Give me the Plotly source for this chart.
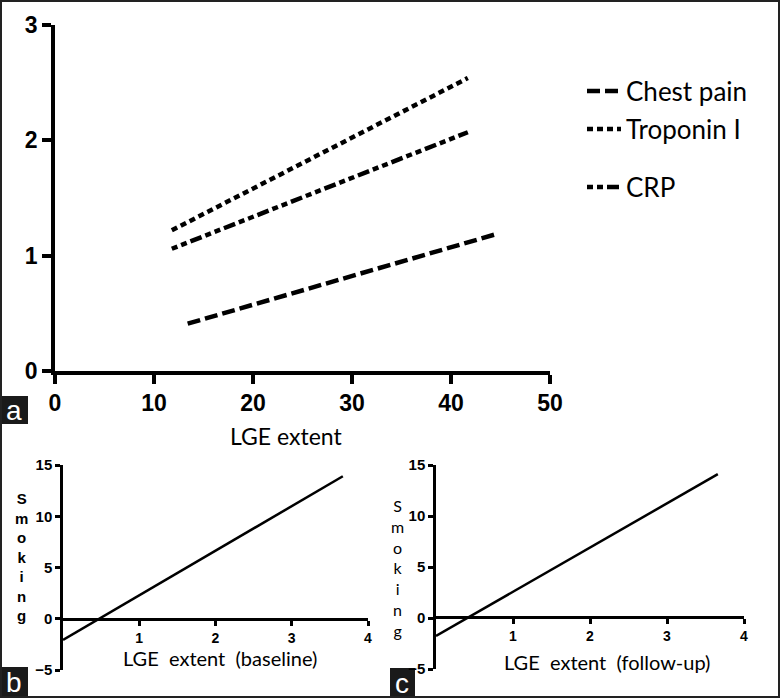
import plotly.graph_objects as go

W, H = 780, 698

# ---- Data ----
# Panel a
chest_x = [13.4, 44.7]
chest_y = [0.41, 1.19]
trop_x = [11.8, 41.7]
trop_y = [1.22, 2.54]
crp_x = [11.8, 41.7]
crp_y = [1.06, 2.07]
a_xticks = [0, 10, 20, 30, 40, 50]
a_yticks = [0, 1, 2, 3]

# Panel b
b_x = [0.0, 3.67]
b_y = [-2.06, 13.9]
# Panel c
c_x = [0.0, 3.66]
c_y = [-1.76, 14.1]
bc_xticks = [1, 2, 3, 4]
bc_yticks = [-5, 0, 5, 10, 15]


def px(x):
    return x / W


def py(y):
    return 1 - y / H


fig = go.Figure()

fig.add_trace(go.Scatter(x=chest_x, y=chest_y, mode="lines", name="Chest pain",
                         line=dict(color="black", width=4.5, dash="13px,5px"),
                         xaxis="x", yaxis="y", legend="legend"))
fig.add_trace(go.Scatter(x=trop_x, y=trop_y, mode="lines", name="Troponin I",
                         line=dict(color="black", width=4.5, dash="6px,4px"),
                         xaxis="x", yaxis="y", legend="legend2"))
fig.add_trace(go.Scatter(x=crp_x, y=crp_y, mode="lines", name="CRP",
                         line=dict(color="black", width=4.5, dash="6px,4px,6px,4px,12px,4px"),
                         xaxis="x", yaxis="y", legend="legend3"))

fig.add_trace(go.Scatter(x=b_x, y=b_y, mode="lines", showlegend=False,
                         line=dict(color="black", width=2.5), xaxis="x2", yaxis="y2"))
fig.add_trace(go.Scatter(x=c_x, y=c_y, mode="lines", showlegend=False,
                         line=dict(color="black", width=2.5), xaxis="x3", yaxis="y3"))

tickfont_a = dict(family="Liberation Sans, Arial", size=23, color="black", weight="bold")
tickfont_bc = dict(family="Liberation Sans, Arial", size=15, color="black", weight="bold")
tickfont_bcx = dict(family="Liberation Sans, Arial", size=14, color="black", weight="bold")

common = dict(showgrid=False, zeroline=False, showline=True, linecolor="black",
              ticks="outside", tickcolor="black", automargin=False)

# Panel a geometry (pixels)
a_x0, a_x1 = 55, 550
a_y0, a_y1 = 371, 25
# Panel b
b_x0, b_x1 = 63, 368
b_ybot, b_ytop = 670, 465
b_zero = 619
# Panel c
c_x0, c_x1 = 436, 744
c_ybot, c_ytop = 669, 465
c_zero = 617

fig.update_layout(
    width=W, height=H,
    margin=dict(l=0, r=0, t=0, b=0, pad=0, autoexpand=False),
    paper_bgcolor="white", plot_bgcolor="rgba(0,0,0,0)",
    xaxis=dict(domain=[px(a_x0), px(a_x1)], range=[0, 50], tickvals=a_xticks,
               linewidth=3.5, tickwidth=3.5, ticklen=9, tickfont=tickfont_a,
               ticklabelstandoff=0, anchor="y", **common),
    yaxis=dict(domain=[py(a_y0), py(a_y1)], range=[0, 3], tickvals=a_yticks,
               linewidth=3.5, tickwidth=3.5, ticklen=9, tickfont=tickfont_a,
               ticklabelstandoff=0, anchor="x", **common),
    xaxis2=dict(domain=[px(b_x0), px(b_x1)], range=[0, 4], tickvals=bc_xticks,
                linewidth=2.5, tickwidth=2.5, ticklen=5, tickfont=tickfont_bcx,
                ticklabelstandoff=0, anchor="free", position=py(b_zero), **common),
    yaxis2=dict(domain=[py(b_ybot), py(b_ytop)], range=[-5, 15], tickvals=bc_yticks,
                linewidth=2.5, tickwidth=2.5, ticklen=5, tickfont=tickfont_bc,
                ticklabelstandoff=0, anchor="x2", **common),
    xaxis3=dict(domain=[px(c_x0), px(c_x1)], range=[0, 4], tickvals=bc_xticks,
                linewidth=2.5, tickwidth=2.5, ticklen=5, tickfont=tickfont_bcx,
                ticklabelstandoff=0, anchor="free", position=py(c_zero), **common),
    yaxis3=dict(domain=[py(c_ybot), py(c_ytop)], range=[-5, 15], tickvals=bc_yticks,
                linewidth=2.5, tickwidth=2.5, ticklen=5, tickfont=tickfont_bc,
                ticklabelstandoff=0, anchor="x3", **common),
)

legend_font = dict(family="Lato, Open Sans", size=26, color="black")
leg_common = dict(xanchor="left", yanchor="middle", bgcolor="rgba(0,0,0,0)",
                  font=legend_font, itemwidth=34)
fig.update_layout(
    legend=dict(x=px(582), y=py(91), **leg_common),
    legend2=dict(x=px(582), y=py(129), **leg_common),
    legend3=dict(x=px(582), y=py(187), **leg_common),
)

label_font = dict(family="Lato, Open Sans", size=23, color="black")
ann = [
    dict(text="LGE extent", x=px(286), y=py(436), xref="paper", yref="paper",
         showarrow=False, font=label_font, xanchor="center", yanchor="middle"),
    dict(text="LGE\u00a0 extent\u00a0 (baseline)", x=px(220), y=py(658), xref="paper", yref="paper",
         showarrow=False, font=dict(family="Lato, Open Sans", size=20, color="black"),
         xanchor="center", yanchor="middle"),
    dict(text="LGE\u00a0 extent\u00a0 (follow-up)", x=px(607), y=py(662), xref="paper", yref="paper",
         showarrow=False, font=dict(family="Lato, Open Sans", size=20, color="black"),
         xanchor="center", yanchor="middle"),
    dict(text="S<br>m<br>o<br>k<br>i<br>n<br>g", x=px(21), y=py(557), xref="paper", yref="paper",
         showarrow=False, font=dict(family="Liberation Sans, Arial", size=15, color="black", weight="bold"),
         xanchor="center", yanchor="middle"),
    dict(text="S<br>m<br>o<br>k<br>i<br>n<br>g", x=px(397), y=py(568), xref="paper", yref="paper",
         showarrow=False, font=dict(family="Lato, Open Sans", size=16, color="black"),
         xanchor="center", yanchor="middle"),
    dict(text="a", x=px(14), y=py(410), xref="paper", yref="paper", showarrow=False,
         font=dict(family="Liberation Sans, Arial", size=28, color="white"), xanchor="center", yanchor="middle"),
    dict(text="b", x=px(14), y=py(682), xref="paper", yref="paper", showarrow=False,
         font=dict(family="Liberation Sans, Arial", size=28, color="white"), xanchor="center", yanchor="middle"),
    dict(text="c", x=px(402), y=py(683), xref="paper", yref="paper", showarrow=False,
         font=dict(family="Liberation Sans, Arial", size=28, color="white"), xanchor="center", yanchor="middle"),
]
fig.update_layout(annotations=ann)

shapes = [
    dict(type="rect", xref="paper", yref="paper", x0=px(0), x1=px(28), y0=py(424), y1=py(396),
         fillcolor="#1a1a1a", line=dict(width=0), layer="below"),
    dict(type="rect", xref="paper", yref="paper", x0=px(0), x1=px(28), y0=py(698), y1=py(667),
         fillcolor="#1a1a1a", line=dict(width=0), layer="below"),
    dict(type="rect", xref="paper", yref="paper", x0=px(390), x1=px(415), y0=py(698), y1=py(668),
         fillcolor="#1a1a1a", line=dict(width=0), layer="below"),
    dict(type="rect", xref="paper", yref="paper", x0=px(1), x1=px(779), y0=py(697), y1=py(1),
         fillcolor="rgba(0,0,0,0)", line=dict(width=2, color="#222"), layer="above"),
]
fig.update_layout(shapes=shapes)

fig.write_html("out.html", config={"displayModeBar": False},
               post_script="document.body.style.margin='0';document.body.style.overflow='hidden';")
